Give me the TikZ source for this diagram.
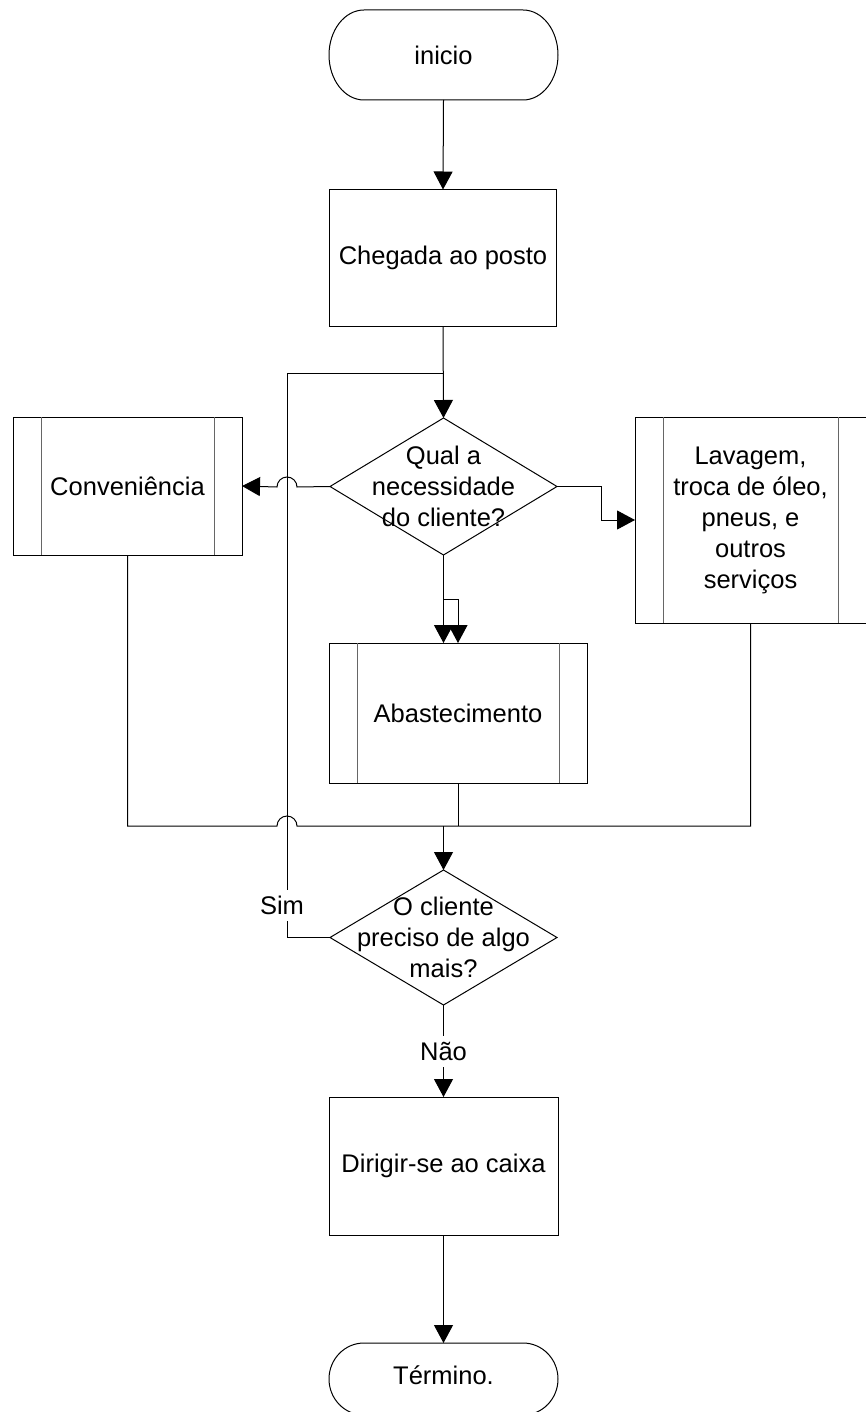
\documentclass[tikz,border=0pt]{standalone}
\usepackage{fontspec}
\setmainfont{Liberation Sans}
\usetikzlibrary{arrows.meta,calc}

% outline of a terminal node: flat top/bottom with elliptic ends
\newcommand\termoutline[2]{%
  \draw[edge] ([xshift=35pt]#1.north west) -- ([xshift=-35pt]#1.north east)
    arc[start angle=90,end angle=-90,x radius=35pt,y radius=#2pt]
    -- ([xshift=35pt]#1.south west)
    arc[start angle=270,end angle=90,x radius=35pt,y radius=#2pt] -- cycle;}
% outline of a decision node: rhombus through the four side midpoints
\newcommand\decisionoutline[1]{%
  \draw[edge] (#1.north) -- (#1.east) -- (#1.south) -- (#1.west) -- cycle;}
% side stripes of a predefined-process box
\newcommand\stripes[1]{%
  \draw[stripe] ([xshift=28pt]#1.north west) -- ([xshift=28pt]#1.south west);
  \draw[stripe] ([xshift=-28pt]#1.north east) -- ([xshift=-28pt]#1.south east);}

\tikzset{
  txt/.style={font=\fontsize{25.5}{31}\selectfont, align=center, inner sep=0pt, outer sep=0pt},
  term/.style={txt, minimum width=229pt},
  stepbox/.style={txt, draw, line width=1pt, minimum width=227pt, minimum height=137pt},
  procbox/.style={txt, draw, line width=1pt},
  decision/.style={txt, minimum width=227pt, minimum height=137pt},
  edge/.style={line width=1pt, black},
  stripe/.style={line width=1pt, black!60},
  arr/.style={edge, -{Triangle[length=18pt,width=19pt]}},
  lbl/.style={txt, fill=white, inner sep=3pt, minimum height=31pt},
}

\begin{document}
\begin{tikzpicture}[x=1pt,y=-1pt]
\useasboundingbox (0,0) rectangle (866,1412);

% nodes
\node[term, minimum height=90pt] (start) at (443.5,55) {inicio};
\node[stepbox] (arrive) at (443,258) {Chegada ao posto};
\node[decision] (q1) at (443.5,486.5) {Qual a\\necessidade\\do cliente?};
\node[procbox, minimum width=229pt, minimum height=138pt] (conv) at (127.5,486) {Conveniência};
\node[procbox, minimum width=231pt, minimum height=206pt] (serv) at (750.5,520) {Lavagem,\\troca de óleo,\\pneus, e\\outros\\serviços};
\node[procbox, minimum width=258pt, minimum height=140pt] (fuel) at (458,713) {Abastecimento};
\node[decision, minimum height=135pt] (q2) at (443.5,937.5) {O cliente\\preciso de algo\\mais?};
\node[stepbox, minimum width=229pt, minimum height=138pt] (pay) at (443.5,1166) {Dirigir-se ao caixa};
\node[term, minimum height=72pt] (end) at (443.5,1379) {};
\node[txt] (endtext) at ([yshift=4pt]end.center) {Término.};

\termoutline{start}{45}
\termoutline{end}{36}
\decisionoutline{q1}
\decisionoutline{q2}
\stripes{conv}
\stripes{serv}
\stripes{fuel}

% helper points
\coordinate (jn) at (443.5,373);
\coordinate (lc) at (287,373);
\coordinate (hop1) at (287,487);
\coordinate (hop2) at (287,826);
\coordinate (mrg) at (443.5,826);

% main flow
\draw[arr] (start.south) -- (arrive.north);
\draw[arr] (arrive.south) -- (q1.north);

% branches of the first decision
\draw[arr] (q1.west) -- ([xshift=10pt]hop1) arc[start angle=0,end angle=180,radius=10pt] -- (conv.east);
\draw[arr] (q1.east) -- ++(44,0) |- (serv.west);
\draw[arr] (q1.south) -- (q1.south |- fuel.north);
\draw[arr] ([yshift=-44pt]q1.south) -| (fuel.north);

% merge into the second decision
\draw[edge] (conv.south) |- ([xshift=-10pt]hop2) arc[start angle=180,end angle=0,radius=10pt] -| (serv.south);
\draw[edge] (fuel.south) -- (fuel.south |- mrg);
\draw[arr] (mrg) -- (q2.north);

% loop back
\draw[edge] (q2.west) -| (lc) -- (jn);
\node[lbl] (sim) at (282,905) {Sim};

% exit
\draw[arr] (q2.south) -- node[lbl] (nao) {Não} (pay.north);
\draw[arr] (pay.south) -- (end.north);
\end{tikzpicture}
\end{document}
